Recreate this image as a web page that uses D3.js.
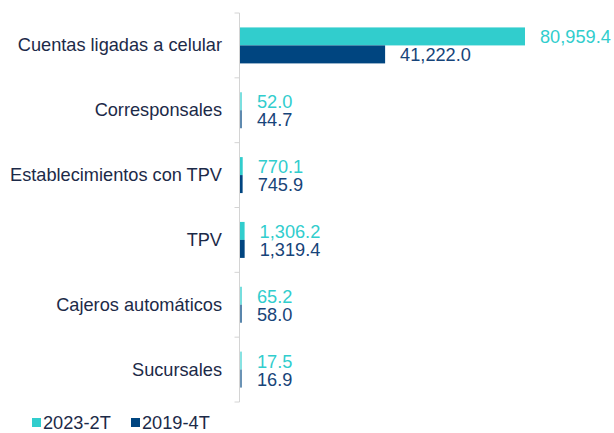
<!DOCTYPE html>
<html>
<head>
<meta charset="utf-8">
<script src="https://cdn.jsdelivr.net/npm/d3@7"></script>
<style>
  body { margin: 0; background: #fff; }
  text { font-family: "Liberation Sans", Arial, sans-serif; }
</style>
</head>
<body>
<div id="chart"></div>
<script>
// data
const categories = ["Cuentas ligadas a celular", "Corresponsales", "Establecimientos con TPV", "TPV", "Cajeros automáticos", "Sucursales"];
const series = ["2023-2T", "2019-4T"];
const values2023 = [80959.4, 52.0, 770.1, 1306.2, 65.2, 17.5];
const values2019 = [41222.0, 44.7, 745.9, 1319.4, 58.0, 16.9];

const width = 614, height = 433;
const barColor = {"2023-2T": "#31CDCD", "2019-4T": "#004580"};
const labelColor = {"2023-2T": "#31CDCD", "2019-4T": "#174479"};
const textColor = "#1C2A48";
const fontSize = 18.2;

const svg = d3.select("#chart")
  .append("svg")
    .attr("width", width)
    .attr("height", height);

const rows = categories.map((c, i) => ({
  cat: c,
  vals: [
    {key: series[0], v: values2023[i]},
    {key: series[1], v: values2019[i]}
  ]
}));

// scales
const x = d3.scaleLinear()
    .domain([0, d3.max(values2023)])
    .range([240, 525]);

const y = d3.scaleBand()
    .domain(categories)
    .range([13, 402])
    .paddingInner(0.445)
    .paddingOuter(0.2225);

const ySub = d3.scaleBand()
    .domain(series)
    .range([0, y.bandwidth()]);

// axis line + ticks at band boundaries
const axisX = 239.5;
svg.append("line")
  .attr("x1", axisX).attr("x2", axisX)
  .attr("y1", 13).attr("y2", 402)
  .attr("stroke", "#D4D4D4").attr("stroke-width", 1);

const step = y.step();
svg.selectAll(".tick")
  .data(d3.range(categories.length + 1))
  .join("line")
    .attr("x1", axisX - 5).attr("x2", axisX)
    .attr("y1", i => 13 + i * step)
    .attr("y2", i => 13 + i * step)
    .attr("stroke", "#D4D4D4").attr("stroke-width", 1);

// category labels
svg.selectAll(".cat")
  .data(categories)
  .join("text")
    .attr("x", 222)
    .attr("y", d => y(d) + y.bandwidth() / 2)
    .attr("text-anchor", "end")
    .attr("dominant-baseline", "central")
    .style("font-size", fontSize + "px")
    .style("fill", textColor)
    .text(d => d);

// bars
const groups = svg.selectAll(".grp")
  .data(rows)
  .join("g")
    .attr("transform", d => `translate(0,${y(d.cat)})`);

groups.selectAll("rect")
  .data(d => d.vals)
  .join("rect")
    .attr("x", x(0))
    .attr("y", d => ySub(d.key))
    .attr("width", d => Math.max(x(d.v) - x(0), 2))
    .attr("height", ySub.bandwidth())
    .attr("fill", d => barColor[d.key])
    .attr("opacity", d => Math.min(1, 0.55 + (x(d.v) - x(0)) / 2));

groups.selectAll("text")
  .data(d => d.vals)
  .join("text")
    .attr("x", d => Math.max(x(d.v), x(0) + 2) + 15)
    .attr("y", d => ySub(d.key) + ySub.bandwidth() / 2 + 1)
    .attr("dominant-baseline", "central")
    .style("font-size", fontSize + "px")
    .style("fill", d => labelColor[d.key])
    .text(d => d3.format(",.1f")(d.v));

// legend
const legendX = [32, 131];
const legend = svg.selectAll(".legend")
  .data(series)
  .join("g")
    .attr("transform", (d, i) => `translate(${legendX[i]},418)`);
legend.append("rect")
  .attr("width", 9).attr("height", 9)
  .attr("fill", d => barColor[d]);
legend.append("text")
  .attr("x", 11)
  .attr("y", 5)
  .attr("dominant-baseline", "central")
  .style("font-size", fontSize + "px")
  .style("fill", textColor)
  .text(d => d);
</script>
</body>
</html>
